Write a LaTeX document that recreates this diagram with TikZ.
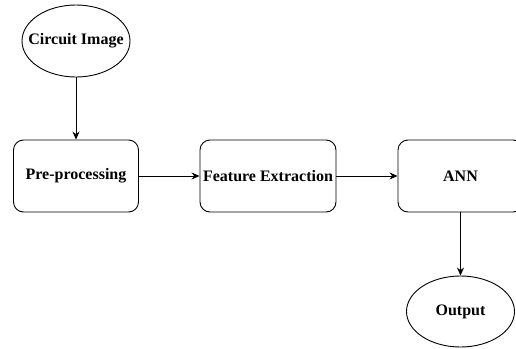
\documentclass[tikz,border=0pt]{standalone}
\usepackage{fontspec}
\setmainfont{Liberation Serif}
\usetikzlibrary{arrows.meta}
\usetikzlibrary{positioning}
\usetikzlibrary{shapes.geometric}

\tikzset{
  stage/.style={draw,rounded corners=10pt,minimum width=125pt,minimum height=72pt,inner sep=0pt,font=\fontsize{16}{19}\selectfont\bfseries},
  terminal/.style={draw,ellipse,minimum width=108pt,minimum height=72pt,inner ysep=0pt,inner xsep=-10pt,font=\fontsize{16}{19}\selectfont\bfseries},
}

\begin{document}
\begin{tikzpicture}[line cap=round,line join=round,>={Stealth[length=8pt,width=7pt]},x=1pt,y=-1pt,line width=0.9pt]
\clip (0,0) rectangle (516,348);
\node[terminal] (img) at (76,41) {Circuit Image};
\node[stage] (pre) at (76,176) {Pre-processing};
\node[stage,minimum width=136pt] (feat) at (268,176) {Feature Extraction};
\node[stage] (ann) at (460.5,176) {ANN};
\node[terminal,minimum height=71pt] (out) at (460.5,311.5) {Output};
\draw [->] (img) -- (pre);
\draw [->] (pre) -- (feat);
\draw [->] (feat) -- (ann);
\draw [->] (ann) -- (out);
\end{tikzpicture}
\end{document}
